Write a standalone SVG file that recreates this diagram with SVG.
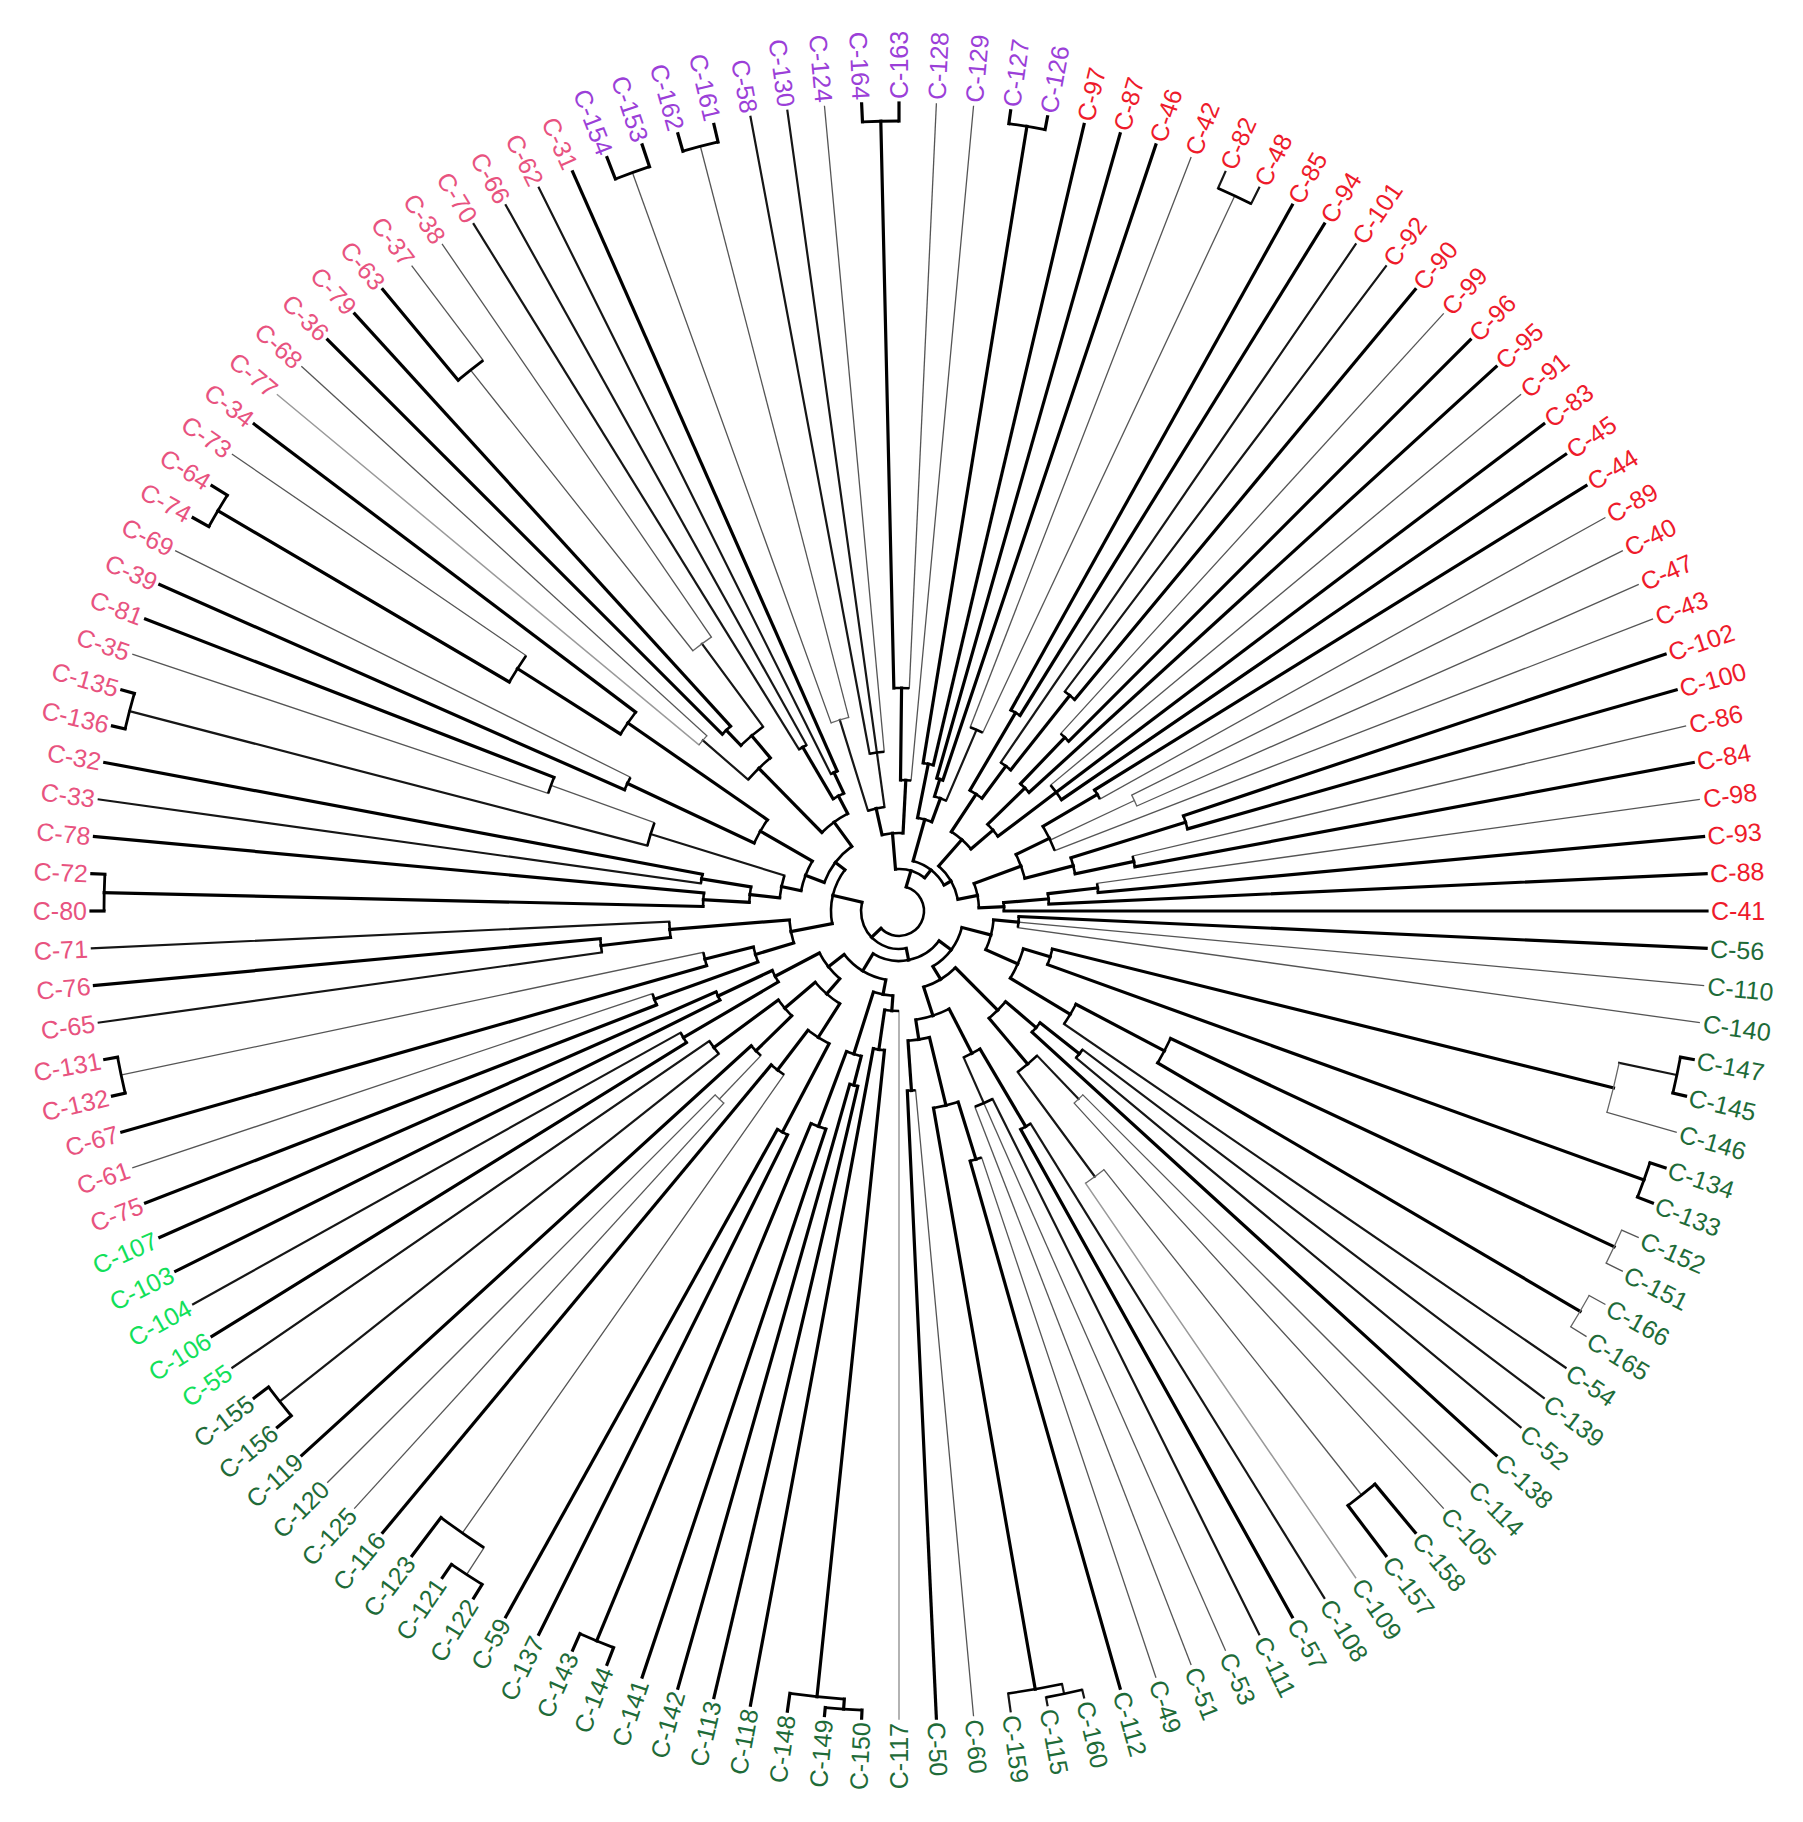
<svg xmlns="http://www.w3.org/2000/svg" width="1803" height="1822" viewBox="0 0 1803 1822">
<style>
line{stroke-linecap:square}
.k{stroke:#000;stroke-width:3.2}
.m{stroke:#161616;stroke-width:2.2}
.t{stroke:#555;stroke-width:1.3}
.v{stroke:#9a9a9a;stroke-width:1.5}
.a{fill:none;stroke:#000;stroke-width:2.6}
.at{fill:none;stroke:#666;stroke-width:1.3}
.b{fill:none;stroke:#000;stroke-width:2.8}
text{font-family:"Liberation Sans",Arial,sans-serif;font-size:25px;dominant-baseline:central}
.e{text-anchor:end}
.pu{fill:#9b3fd8}
.rd{fill:#ee1b2b}
.pk{fill:#e8537f}
.dg{fill:#1e6b38}
.bg{fill:#12e05a}
</style>
<rect width="1803" height="1822" fill="#fff"/>
<g id="connectors" transform="translate(899 911)">
<!-- terminal branches -->
<line class="k" x1="785" x2="808" transform="rotate(-111.18)"/>
<line class="k" x1="785" x2="808" transform="rotate(-108.53)"/>
<line class="k" x1="790" x2="808" transform="rotate(-105.88)"/>
<line class="k" x1="790" x2="808" transform="rotate(-103.24)"/>
<line class="m" x1="160" x2="808" transform="rotate(-100.59)"/>
<line class="m" x1="160" x2="808" transform="rotate(-97.94)"/>
<line class="t" x1="160" x2="808" transform="rotate(-95.29)"/>
<line class="k" x1="790" x2="808" transform="rotate(-92.65)"/>
<line class="k" x1="790" x2="808" transform="rotate(-90)"/>
<line class="t" x1="223" x2="808" transform="rotate(-87.35)"/>
<line class="t" x1="131" x2="808" transform="rotate(-84.71)"/>
<line class="k" x1="795" x2="808" transform="rotate(-82.06)"/>
<line class="k" x1="795" x2="808" transform="rotate(-79.41)"/>
<line class="k" x1="150" x2="808" transform="rotate(-76.76)"/>
<line class="k" x1="138" x2="808" transform="rotate(-74.12)"/>
<line class="k" x1="138" x2="808" transform="rotate(-71.47)"/>
<line class="t" x1="197" x2="808" transform="rotate(-68.82)"/>
<line class="m" x1="790" x2="808" transform="rotate(-66.18)"/>
<line class="m" x1="790" x2="808" transform="rotate(-63.53)"/>
<line class="k" x1="230" x2="808" transform="rotate(-60.88)"/>
<line class="k" x1="230" x2="808" transform="rotate(-58.24)"/>
<line class="m" x1="180" x2="808" transform="rotate(-55.59)"/>
<line class="m" x1="275" x2="808" transform="rotate(-52.94)"/>
<line class="k" x1="275" x2="808" transform="rotate(-50.29)"/>
<line class="t" x1="240" x2="808" transform="rotate(-47.65)"/>
<line class="k" x1="240" x2="808" transform="rotate(-45)"/>
<line class="k" x1="176" x2="808" transform="rotate(-42.35)"/>
<line class="t" x1="197" x2="808" transform="rotate(-39.71)"/>
<line class="k" x1="197" x2="808" transform="rotate(-37.06)"/>
<line class="k" x1="197" x2="808" transform="rotate(-34.41)"/>
<line class="k" x1="230" x2="808" transform="rotate(-31.76)"/>
<line class="t" x1="230" x2="808" transform="rotate(-29.12)"/>
<line class="t" x1="260" x2="808" transform="rotate(-26.47)"/>
<line class="t" x1="260" x2="808" transform="rotate(-23.82)"/>
<line class="t" x1="167" x2="808" transform="rotate(-21.18)"/>
<line class="k" x1="300" x2="808" transform="rotate(-18.53)"/>
<line class="k" x1="300" x2="808" transform="rotate(-15.88)"/>
<line class="t" x1="240" x2="808" transform="rotate(-13.24)"/>
<line class="k" x1="240" x2="808" transform="rotate(-10.59)"/>
<line class="t" x1="200" x2="808" transform="rotate(-7.94)"/>
<line class="k" x1="200" x2="808" transform="rotate(-5.29)"/>
<line class="k" x1="150" x2="808" transform="rotate(-2.65)"/>
<line class="k" x1="105" x2="808" transform="rotate(0)"/>
<line class="k" x1="120" x2="808" transform="rotate(2.65)"/>
<line class="t" x1="120" x2="808" transform="rotate(5.29)"/>
<line class="t" x1="120" x2="808" transform="rotate(7.94)"/>
<line class="k" x1="795" x2="808" transform="rotate(10.59)"/>
<line class="k" x1="795" x2="808" transform="rotate(13.24)"/>
<line class="t" x1="736" x2="808" transform="rotate(15.88)"/>
<line class="k" x1="792" x2="808" transform="rotate(18.53)"/>
<line class="k" x1="792" x2="808" transform="rotate(21.18)"/>
<line class="t" x1="790" x2="808" transform="rotate(23.82)"/>
<line class="t" x1="790" x2="808" transform="rotate(26.47)"/>
<line class="t" x1="790" x2="808" transform="rotate(29.12)"/>
<line class="t" x1="790" x2="808" transform="rotate(31.76)"/>
<line class="m" x1="200" x2="808" transform="rotate(34.41)"/>
<line class="m" x1="230" x2="808" transform="rotate(37.06)"/>
<line class="m" x1="230" x2="808" transform="rotate(39.71)"/>
<line class="k" x1="180" x2="808" transform="rotate(42.35)"/>
<line class="t" x1="260" x2="808" transform="rotate(45)"/>
<line class="t" x1="260" x2="808" transform="rotate(47.65)"/>
<line class="k" x1="745" x2="808" transform="rotate(50.29)"/>
<line class="k" x1="745" x2="808" transform="rotate(52.94)"/>
<line class="v" x1="330" x2="808" transform="rotate(55.59)"/>
<line class="m" x1="250" x2="808" transform="rotate(58.24)"/>
<line class="k" x1="250" x2="808" transform="rotate(60.88)"/>
<line class="m" x1="210" x2="808" transform="rotate(63.53)"/>
<line class="t" x1="210" x2="808" transform="rotate(66.18)"/>
<line class="t" x1="210" x2="808" transform="rotate(68.82)"/>
<line class="t" x1="260" x2="808" transform="rotate(71.47)"/>
<line class="k" x1="260" x2="808" transform="rotate(74.12)"/>
<line class="m" x1="800" x2="808" transform="rotate(76.76)"/>
<line class="m" x1="800" x2="808" transform="rotate(79.41)"/>
<line class="m" x1="790" x2="808" transform="rotate(82.06)"/>
<line class="t" x1="180" x2="808" transform="rotate(84.71)"/>
<line class="k" x1="180" x2="808" transform="rotate(87.35)"/>
<line class="v" x1="100" x2="808" transform="rotate(90)"/>
<line class="k" x1="800" x2="808" transform="rotate(92.65)"/>
<line class="k" x1="800" x2="808" transform="rotate(95.29)"/>
<line class="k" x1="790" x2="808" transform="rotate(97.94)"/>
<line class="k" x1="140" x2="808" transform="rotate(100.59)"/>
<line class="k" x1="180" x2="808" transform="rotate(103.24)"/>
<line class="k" x1="180" x2="808" transform="rotate(105.88)"/>
<line class="k" x1="230" x2="808" transform="rotate(108.53)"/>
<line class="k" x1="790" x2="808" transform="rotate(111.18)"/>
<line class="k" x1="790" x2="808" transform="rotate(113.82)"/>
<line class="k" x1="250" x2="808" transform="rotate(116.47)"/>
<line class="k" x1="250" x2="808" transform="rotate(119.12)"/>
<line class="k" x1="792" x2="808" transform="rotate(121.76)"/>
<line class="k" x1="792" x2="808" transform="rotate(124.41)"/>
<line class="k" x1="760" x2="808" transform="rotate(127.06)"/>
<line class="k" x1="200" x2="808" transform="rotate(129.71)"/>
<line class="t" x1="260" x2="808" transform="rotate(132.35)"/>
<line class="t" x1="260" x2="808" transform="rotate(135)"/>
<line class="k" x1="200" x2="808" transform="rotate(137.65)"/>
<line class="k" x1="790" x2="808" transform="rotate(140.29)"/>
<line class="k" x1="790" x2="808" transform="rotate(142.94)"/>
<line class="m" x1="230" x2="808" transform="rotate(145.59)"/>
<line class="k" x1="250" x2="808" transform="rotate(148.24)"/>
<line class="m" x1="250" x2="808" transform="rotate(150.88)"/>
<line class="k" x1="200" x2="808" transform="rotate(153.53)"/>
<line class="k" x1="200" x2="808" transform="rotate(156.18)"/>
<line class="k" x1="260" x2="808" transform="rotate(158.82)"/>
<line class="t" x1="260" x2="808" transform="rotate(161.47)"/>
<line class="k" x1="200" x2="808" transform="rotate(164.12)"/>
<line class="k" x1="795" x2="808" transform="rotate(166.76)"/>
<line class="k" x1="795" x2="808" transform="rotate(169.41)"/>
<line class="m" x1="300" x2="808" transform="rotate(172.06)"/>
<line class="k" x1="300" x2="808" transform="rotate(174.71)"/>
<line class="m" x1="230" x2="808" transform="rotate(177.35)"/>
<line class="k" x1="795" x2="808" transform="rotate(180)"/>
<line class="k" x1="795" x2="808" transform="rotate(182.65)"/>
<line class="k" x1="196" x2="808" transform="rotate(185.29)"/>
<line class="m" x1="200" x2="808" transform="rotate(187.94)"/>
<line class="k" x1="200" x2="808" transform="rotate(190.59)"/>
<line class="k" x1="795" x2="808" transform="rotate(193.24)"/>
<line class="k" x1="795" x2="808" transform="rotate(195.88)"/>
<line class="t" x1="370" x2="808" transform="rotate(198.53)"/>
<line class="k" x1="370" x2="808" transform="rotate(201.18)"/>
<line class="k" x1="300" x2="808" transform="rotate(203.82)"/>
<line class="t" x1="300" x2="808" transform="rotate(206.47)"/>
<line class="k" x1="790" x2="808" transform="rotate(209.12)"/>
<line class="k" x1="790" x2="808" transform="rotate(211.76)"/>
<line class="t" x1="452" x2="808" transform="rotate(214.41)"/>
<line class="k" x1="330" x2="808" transform="rotate(217.06)"/>
<line class="v" x1="260" x2="808" transform="rotate(219.71)"/>
<line class="t" x1="260" x2="808" transform="rotate(222.35)"/>
<line class="k" x1="250" x2="808" transform="rotate(225)"/>
<line class="k" x1="250" x2="808" transform="rotate(227.65)"/>
<line class="k" x1="690" x2="808" transform="rotate(230.29)"/>
<line class="t" x1="690" x2="808" transform="rotate(232.94)"/>
<line class="t" x1="332" x2="808" transform="rotate(235.59)"/>
<line class="m" x1="190" x2="808" transform="rotate(238.24)"/>
<line class="m" x1="190" x2="808" transform="rotate(240.88)"/>
<line class="m" x1="153" x2="808" transform="rotate(243.53)"/>
<line class="k" x1="153" x2="808" transform="rotate(246.18)"/>
<!-- internal stems -->
<line class="k" x1="223" x2="790" transform="rotate(-91.32)"/>
<line class="k" x1="131" x2="223" transform="rotate(-89.34)"/>
<line class="t" x1="200" x2="785" transform="rotate(-109.85)"/>
<line class="t" x1="200" x2="790" transform="rotate(-104.56)"/>
<line class="m" x1="105" x2="200" transform="rotate(-107.21)"/>
<line class="m" x1="105" x2="160" transform="rotate(-97.94)"/>
<line class="k" x1="78" x2="105" transform="rotate(-102.57)"/>
<line class="k" x1="78" x2="131" transform="rotate(-87.02)"/>
<line class="k" x1="150" x2="795" transform="rotate(-80.74)"/>
<line class="t" x1="197" x2="790" transform="rotate(-64.85)"/>
<line class="k" x1="120" x2="138" transform="rotate(-72.79)"/>
<line class="m" x1="120" x2="197" transform="rotate(-66.84)"/>
<line class="k" x1="95" x2="150" transform="rotate(-78.75)"/>
<line class="k" x1="95" x2="120" transform="rotate(-69.82)"/>
<line class="k" x1="180" x2="275" transform="rotate(-51.62)"/>
<line class="k" x1="140" x2="230" transform="rotate(-59.56)"/>
<line class="k" x1="140" x2="180" transform="rotate(-53.6)"/>
<line class="k" x1="176" x2="240" transform="rotate(-46.32)"/>
<line class="k" x1="124" x2="176" transform="rotate(-44.34)"/>
<line class="k" x1="124" x2="197" transform="rotate(-37.06)"/>
<line class="k" x1="95" x2="140" transform="rotate(-56.58)"/>
<line class="k" x1="95" x2="124" transform="rotate(-40.7)"/>
<line class="k" x1="167" x2="230" transform="rotate(-30.44)"/>
<line class="t" x1="167" x2="260" transform="rotate(-25.15)"/>
<line class="k" x1="180" x2="300" transform="rotate(-17.21)"/>
<line class="k" x1="180" x2="240" transform="rotate(-11.91)"/>
<line class="k" x1="130" x2="167" transform="rotate(-25.81)"/>
<line class="k" x1="130" x2="180" transform="rotate(-14.56)"/>
<line class="k" x1="150" x2="200" transform="rotate(-6.62)"/>
<line class="k" x1="105" x2="150" transform="rotate(-4.63)"/>
<line class="k" x1="80" x2="130" transform="rotate(-20.19)"/>
<line class="k" x1="80" x2="105" transform="rotate(-2.32)"/>
<line class="k" x1="60" x2="95" transform="rotate(-48.64)"/>
<line class="k" x1="60" x2="80" transform="rotate(-11.25)"/>
<line class="k" x1="52" x2="95" transform="rotate(-74.28)"/>
<line class="k" x1="52" x2="60" transform="rotate(-29.94)"/>
<line class="m" x1="736" x2="795" transform="rotate(11.91)"/>
<line class="k" x1="158" x2="736" transform="rotate(13.9)"/>
<line class="k" x1="158" x2="792" transform="rotate(19.85)"/>
<line class="k" x1="300" x2="790" transform="rotate(25.15)"/>
<line class="k" x1="300" x2="790" transform="rotate(30.44)"/>
<line class="k" x1="200" x2="300" transform="rotate(27.79)"/>
<line class="k" x1="95" x2="120" transform="rotate(5.29)"/>
<line class="k" x1="130" x2="158" transform="rotate(16.88)"/>
<line class="k" x1="130" x2="200" transform="rotate(31.1)"/>
<line class="k" x1="95" x2="130" transform="rotate(23.99)"/>
<line class="k" x1="180" x2="230" transform="rotate(38.38)"/>
<line class="t" x1="330" x2="745" transform="rotate(51.62)"/>
<line class="m" x1="200" x2="260" transform="rotate(46.32)"/>
<line class="m" x1="200" x2="330" transform="rotate(53.6)"/>
<line class="k" x1="140" x2="180" transform="rotate(40.37)"/>
<line class="k" x1="140" x2="200" transform="rotate(49.96)"/>
<line class="k" x1="160" x2="250" transform="rotate(59.56)"/>
<line class="m" x1="160" x2="210" transform="rotate(66.18)"/>
<line class="k" x1="200" x2="260" transform="rotate(72.79)"/>
<line class="m" x1="790" x2="800" transform="rotate(78.09)"/>
<line class="k" x1="200" x2="790" transform="rotate(80.07)"/>
<line class="k" x1="130" x2="200" transform="rotate(76.43)"/>
<line class="k" x1="130" x2="180" transform="rotate(86.03)"/>
<line class="k" x1="110" x2="160" transform="rotate(62.87)"/>
<line class="k" x1="110" x2="130" transform="rotate(81.24)"/>
<line class="k" x1="80" x2="140" transform="rotate(45.16)"/>
<line class="k" x1="80" x2="110" transform="rotate(72.05)"/>
<line class="k" x1="65" x2="95" transform="rotate(14.64)"/>
<line class="k" x1="65" x2="80" transform="rotate(58.61)"/>
<line class="k" x1="790" x2="800" transform="rotate(93.97)"/>
<line class="k" x1="140" x2="790" transform="rotate(95.96)"/>
<line class="k" x1="100" x2="140" transform="rotate(98.27)"/>
<line class="k" x1="230" x2="790" transform="rotate(112.5)"/>
<line class="k" x1="150" x2="180" transform="rotate(104.56)"/>
<line class="k" x1="150" x2="230" transform="rotate(110.51)"/>
<line class="k" x1="85" x2="100" transform="rotate(94.13)"/>
<line class="k" x1="85" x2="150" transform="rotate(107.54)"/>
<line class="t" x1="760" x2="792" transform="rotate(123.09)"/>
<line class="t" x1="200" x2="760" transform="rotate(125.07)"/>
<line class="k" x1="150" x2="250" transform="rotate(117.79)"/>
<line class="k" x1="150" x2="200" transform="rotate(127.39)"/>
<line class="t" x1="200" x2="260" transform="rotate(133.68)"/>
<line class="m" x1="230" x2="790" transform="rotate(141.62)"/>
<line class="k" x1="150" x2="200" transform="rotate(135.66)"/>
<line class="k" x1="150" x2="230" transform="rotate(143.6)"/>
<line class="k" x1="110" x2="150" transform="rotate(122.58)"/>
<line class="k" x1="110" x2="150" transform="rotate(139.63)"/>
<line class="k" x1="140" x2="250" transform="rotate(149.56)"/>
<line class="k" x1="140" x2="200" transform="rotate(154.85)"/>
<line class="k" x1="90" x2="110" transform="rotate(131.11)"/>
<line class="k" x1="90" x2="140" transform="rotate(152.21)"/>
<line class="k" x1="70" x2="85" transform="rotate(100.83)"/>
<line class="k" x1="70" x2="90" transform="rotate(141.67)"/>
<line class="t" x1="200" x2="795" transform="rotate(168.09)"/>
<line class="k" x1="150" x2="260" transform="rotate(160.15)"/>
<line class="k" x1="150" x2="200" transform="rotate(166.1)"/>
<line class="k" x1="230" x2="300" transform="rotate(173.38)"/>
<line class="k" x1="110" x2="150" transform="rotate(163.13)"/>
<line class="k" x1="110" x2="230" transform="rotate(175.37)"/>
<line class="k" x1="196" x2="795" transform="rotate(181.32)"/>
<line class="k" x1="150" x2="196" transform="rotate(183.31)"/>
<line class="k" x1="150" x2="200" transform="rotate(189.26)"/>
<line class="t" x1="260" x2="370" transform="rotate(199.85)"/>
<line class="m" x1="260" x2="795" transform="rotate(194.56)"/>
<line class="k" x1="120" x2="150" transform="rotate(186.29)"/>
<line class="m" x1="120" x2="260" transform="rotate(197.21)"/>
<line class="k" x1="452" x2="790" transform="rotate(210.44)"/>
<line class="k" x1="330" x2="452" transform="rotate(212.43)"/>
<line class="k" x1="160" x2="300" transform="rotate(205.15)"/>
<line class="k" x1="160" x2="330" transform="rotate(214.74)"/>
<line class="k" x1="100" x2="120" transform="rotate(191.75)"/>
<line class="k" x1="100" x2="160" transform="rotate(209.94)"/>
<line class="t" x1="332" x2="690" transform="rotate(231.62)"/>
<line class="k" x1="229" x2="250" transform="rotate(226.32)"/>
<line class="m" x1="229" x2="332" transform="rotate(233.6)"/>
<line class="m" x1="200" x2="260" transform="rotate(221.03)"/>
<line class="k" x1="200" x2="229" transform="rotate(229.96)"/>
<line class="k" x1="130" x2="190" transform="rotate(239.56)"/>
<line class="k" x1="130" x2="153" transform="rotate(244.85)"/>
<line class="k" x1="110" x2="200" transform="rotate(225.5)"/>
<line class="k" x1="110" x2="130" transform="rotate(242.21)"/>
<line class="k" x1="80" x2="100" transform="rotate(200.85)"/>
<line class="k" x1="80" x2="110" transform="rotate(233.85)"/>
<line class="k" x1="68" x2="110" transform="rotate(169.25)"/>
<line class="k" x1="68" x2="80" transform="rotate(217.35)"/>
<line class="k" x1="42" x2="78" transform="rotate(-94.8)"/>
<line class="k" x1="42" x2="52" transform="rotate(-52.11)"/>
<line class="k" x1="50" x2="65" transform="rotate(36.63)"/>
<line class="k" x1="50" x2="70" transform="rotate(121.24)"/>
<line class="k" x1="38" x2="50" transform="rotate(78.93)"/>
<line class="k" x1="38" x2="68" transform="rotate(193.3)"/>
<line class="k" x1="25" x2="42" transform="rotate(-73.46)"/>
<line class="k" x1="25" x2="38" transform="rotate(136.13)"/>
<!-- arcs -->
<circle class="b" r="785" pathLength="360" stroke-dasharray="2.65 360" transform="rotate(-111.18)"/>
<circle class="b" r="790" pathLength="360" stroke-dasharray="2.65 360" transform="rotate(-105.88)"/>
<circle class="b" r="790" pathLength="360" stroke-dasharray="2.65 360" transform="rotate(-92.65)"/>
<circle class="b" r="795" pathLength="360" stroke-dasharray="2.65 360" transform="rotate(-82.06)"/>
<circle class="a" r="223" pathLength="360" stroke-dasharray="3.97 360" transform="rotate(-91.32)"/>
<circle class="a" r="131" pathLength="360" stroke-dasharray="4.63 360" transform="rotate(-89.34)"/>
<circle class="a" r="160" pathLength="360" stroke-dasharray="5.3 360" transform="rotate(-100.59)"/>
<circle class="at" r="200" pathLength="360" stroke-dasharray="5.29 360" transform="rotate(-109.85)"/>
<circle class="a" r="105" pathLength="360" stroke-dasharray="9.27 360" transform="rotate(-107.21)"/>
<circle class="a" r="78" pathLength="360" stroke-dasharray="15.55 360" transform="rotate(-102.57)"/>
<circle class="a" r="150" pathLength="360" stroke-dasharray="3.98 360" transform="rotate(-80.74)"/>
<circle class="b" r="790" pathLength="360" stroke-dasharray="2.65 360" transform="rotate(-66.18)"/>
<circle class="a" r="138" pathLength="360" stroke-dasharray="2.65 360" transform="rotate(-74.12)"/>
<circle class="a" r="197" pathLength="360" stroke-dasharray="3.97 360" transform="rotate(-68.82)"/>
<circle class="a" r="120" pathLength="360" stroke-dasharray="5.95 360" transform="rotate(-72.79)"/>
<circle class="a" r="95" pathLength="360" stroke-dasharray="8.93 360" transform="rotate(-78.75)"/>
<circle class="a" r="230" pathLength="360" stroke-dasharray="2.64 360" transform="rotate(-60.88)"/>
<circle class="a" r="275" pathLength="360" stroke-dasharray="2.65 360" transform="rotate(-52.94)"/>
<circle class="a" r="180" pathLength="360" stroke-dasharray="3.97 360" transform="rotate(-55.59)"/>
<circle class="a" r="140" pathLength="360" stroke-dasharray="5.96 360" transform="rotate(-59.56)"/>
<circle class="a" r="240" pathLength="360" stroke-dasharray="2.65 360" transform="rotate(-47.65)"/>
<circle class="a" r="176" pathLength="360" stroke-dasharray="3.97 360" transform="rotate(-46.32)"/>
<circle class="a" r="197" pathLength="360" stroke-dasharray="5.3 360" transform="rotate(-39.71)"/>
<circle class="a" r="124" pathLength="360" stroke-dasharray="7.28 360" transform="rotate(-44.34)"/>
<circle class="a" r="95" pathLength="360" stroke-dasharray="15.88 360" transform="rotate(-56.58)"/>
<circle class="a" r="230" pathLength="360" stroke-dasharray="2.64 360" transform="rotate(-31.76)"/>
<circle class="at" r="260" pathLength="360" stroke-dasharray="2.65 360" transform="rotate(-26.47)"/>
<circle class="a" r="167" pathLength="360" stroke-dasharray="9.26 360" transform="rotate(-30.44)"/>
<circle class="a" r="300" pathLength="360" stroke-dasharray="2.65 360" transform="rotate(-18.53)"/>
<circle class="a" r="240" pathLength="360" stroke-dasharray="2.65 360" transform="rotate(-13.24)"/>
<circle class="a" r="180" pathLength="360" stroke-dasharray="5.3 360" transform="rotate(-17.21)"/>
<circle class="a" r="130" pathLength="360" stroke-dasharray="11.25 360" transform="rotate(-25.81)"/>
<circle class="a" r="200" pathLength="360" stroke-dasharray="2.65 360" transform="rotate(-7.94)"/>
<circle class="a" r="150" pathLength="360" stroke-dasharray="3.97 360" transform="rotate(-6.62)"/>
<circle class="a" r="105" pathLength="360" stroke-dasharray="4.63 360" transform="rotate(-4.63)"/>
<circle class="a" r="80" pathLength="360" stroke-dasharray="17.87 360" transform="rotate(-20.19)"/>
<circle class="a" r="60" pathLength="360" stroke-dasharray="37.39 360" transform="rotate(-48.64)"/>
<circle class="a" r="52" pathLength="360" stroke-dasharray="44.34 360" transform="rotate(-74.28)"/>
<circle class="b" r="795" pathLength="360" stroke-dasharray="2.65 360" transform="rotate(10.59)"/>
<circle class="at" r="736" pathLength="360" stroke-dasharray="3.97 360" transform="rotate(11.91)"/>
<circle class="b" r="792" pathLength="360" stroke-dasharray="2.65 360" transform="rotate(18.53)"/>
<circle class="at" r="790" pathLength="360" stroke-dasharray="2.65 360" transform="rotate(23.82)"/>
<circle class="at" r="790" pathLength="360" stroke-dasharray="2.64 360" transform="rotate(29.12)"/>
<circle class="a" r="120" pathLength="360" stroke-dasharray="5.29 360" transform="rotate(2.65)"/>
<circle class="a" r="158" pathLength="360" stroke-dasharray="5.95 360" transform="rotate(13.9)"/>
<circle class="a" r="300" pathLength="360" stroke-dasharray="5.29 360" transform="rotate(25.15)"/>
<circle class="a" r="200" pathLength="360" stroke-dasharray="6.62 360" transform="rotate(27.79)"/>
<circle class="a" r="130" pathLength="360" stroke-dasharray="14.22 360" transform="rotate(16.88)"/>
<circle class="a" r="95" pathLength="360" stroke-dasharray="18.7 360" transform="rotate(5.29)"/>
<circle class="a" r="230" pathLength="360" stroke-dasharray="2.65 360" transform="rotate(37.06)"/>
<circle class="a" r="180" pathLength="360" stroke-dasharray="3.97 360" transform="rotate(38.38)"/>
<circle class="at" r="260" pathLength="360" stroke-dasharray="2.65 360" transform="rotate(45)"/>
<circle class="b" r="745" pathLength="360" stroke-dasharray="2.65 360" transform="rotate(50.29)"/>
<circle class="at" r="330" pathLength="360" stroke-dasharray="3.97 360" transform="rotate(51.62)"/>
<circle class="a" r="200" pathLength="360" stroke-dasharray="7.28 360" transform="rotate(46.32)"/>
<circle class="a" r="140" pathLength="360" stroke-dasharray="9.59 360" transform="rotate(40.37)"/>
<circle class="a" r="250" pathLength="360" stroke-dasharray="2.64 360" transform="rotate(58.24)"/>
<circle class="a" r="210" pathLength="360" stroke-dasharray="5.29 360" transform="rotate(63.53)"/>
<circle class="a" r="160" pathLength="360" stroke-dasharray="6.62 360" transform="rotate(59.56)"/>
<circle class="a" r="260" pathLength="360" stroke-dasharray="2.65 360" transform="rotate(71.47)"/>
<circle class="a" r="800" pathLength="360" stroke-dasharray="2.65 360" transform="rotate(76.76)"/>
<circle class="a" r="790" pathLength="360" stroke-dasharray="3.97 360" transform="rotate(78.09)"/>
<circle class="a" r="200" pathLength="360" stroke-dasharray="7.28 360" transform="rotate(72.79)"/>
<circle class="a" r="180" pathLength="360" stroke-dasharray="2.64 360" transform="rotate(84.71)"/>
<circle class="a" r="130" pathLength="360" stroke-dasharray="9.6 360" transform="rotate(76.43)"/>
<circle class="a" r="110" pathLength="360" stroke-dasharray="18.37 360" transform="rotate(62.87)"/>
<circle class="a" r="80" pathLength="360" stroke-dasharray="26.89 360" transform="rotate(45.16)"/>
<circle class="a" r="65" pathLength="360" stroke-dasharray="43.97 360" transform="rotate(14.64)"/>
<circle class="b" r="800" pathLength="360" stroke-dasharray="2.64 360" transform="rotate(92.65)"/>
<circle class="b" r="790" pathLength="360" stroke-dasharray="3.97 360" transform="rotate(93.97)"/>
<circle class="a" r="140" pathLength="360" stroke-dasharray="4.63 360" transform="rotate(95.96)"/>
<circle class="a" r="100" pathLength="360" stroke-dasharray="8.27 360" transform="rotate(90)"/>
<circle class="a" r="180" pathLength="360" stroke-dasharray="2.64 360" transform="rotate(103.24)"/>
<circle class="b" r="790" pathLength="360" stroke-dasharray="2.64 360" transform="rotate(111.18)"/>
<circle class="a" r="230" pathLength="360" stroke-dasharray="3.97 360" transform="rotate(108.53)"/>
<circle class="a" r="150" pathLength="360" stroke-dasharray="5.95 360" transform="rotate(104.56)"/>
<circle class="a" r="85" pathLength="360" stroke-dasharray="13.41 360" transform="rotate(94.13)"/>
<circle class="a" r="250" pathLength="360" stroke-dasharray="2.65 360" transform="rotate(116.47)"/>
<circle class="b" r="792" pathLength="360" stroke-dasharray="2.65 360" transform="rotate(121.76)"/>
<circle class="b" r="760" pathLength="360" stroke-dasharray="3.97 360" transform="rotate(123.09)"/>
<circle class="a" r="200" pathLength="360" stroke-dasharray="4.64 360" transform="rotate(125.07)"/>
<circle class="a" r="150" pathLength="360" stroke-dasharray="9.6 360" transform="rotate(117.79)"/>
<circle class="at" r="260" pathLength="360" stroke-dasharray="2.65 360" transform="rotate(132.35)"/>
<circle class="a" r="200" pathLength="360" stroke-dasharray="3.97 360" transform="rotate(133.68)"/>
<circle class="b" r="790" pathLength="360" stroke-dasharray="2.65 360" transform="rotate(140.29)"/>
<circle class="a" r="230" pathLength="360" stroke-dasharray="3.97 360" transform="rotate(141.62)"/>
<circle class="a" r="150" pathLength="360" stroke-dasharray="7.94 360" transform="rotate(135.66)"/>
<circle class="a" r="110" pathLength="360" stroke-dasharray="17.05 360" transform="rotate(122.58)"/>
<circle class="a" r="250" pathLength="360" stroke-dasharray="2.64 360" transform="rotate(148.24)"/>
<circle class="a" r="200" pathLength="360" stroke-dasharray="2.65 360" transform="rotate(153.53)"/>
<circle class="a" r="140" pathLength="360" stroke-dasharray="5.29 360" transform="rotate(149.56)"/>
<circle class="a" r="90" pathLength="360" stroke-dasharray="21.1 360" transform="rotate(131.11)"/>
<circle class="a" r="70" pathLength="360" stroke-dasharray="40.84 360" transform="rotate(100.83)"/>
<circle class="a" r="260" pathLength="360" stroke-dasharray="2.65 360" transform="rotate(158.82)"/>
<circle class="b" r="795" pathLength="360" stroke-dasharray="2.65 360" transform="rotate(166.76)"/>
<circle class="a" r="200" pathLength="360" stroke-dasharray="3.97 360" transform="rotate(164.12)"/>
<circle class="a" r="150" pathLength="360" stroke-dasharray="5.95 360" transform="rotate(160.15)"/>
<circle class="a" r="300" pathLength="360" stroke-dasharray="2.65 360" transform="rotate(172.06)"/>
<circle class="a" r="230" pathLength="360" stroke-dasharray="3.97 360" transform="rotate(173.38)"/>
<circle class="a" r="110" pathLength="360" stroke-dasharray="12.24 360" transform="rotate(163.13)"/>
<circle class="b" r="795" pathLength="360" stroke-dasharray="2.65 360" transform="rotate(180)"/>
<circle class="a" r="196" pathLength="360" stroke-dasharray="3.97 360" transform="rotate(181.32)"/>
<circle class="a" r="200" pathLength="360" stroke-dasharray="2.65 360" transform="rotate(187.94)"/>
<circle class="a" r="150" pathLength="360" stroke-dasharray="5.95 360" transform="rotate(183.31)"/>
<circle class="b" r="795" pathLength="360" stroke-dasharray="2.64 360" transform="rotate(193.24)"/>
<circle class="a" r="370" pathLength="360" stroke-dasharray="2.65 360" transform="rotate(198.53)"/>
<circle class="a" r="260" pathLength="360" stroke-dasharray="5.29 360" transform="rotate(194.56)"/>
<circle class="b" r="790" pathLength="360" stroke-dasharray="2.64 360" transform="rotate(209.12)"/>
<circle class="a" r="452" pathLength="360" stroke-dasharray="3.97 360" transform="rotate(210.44)"/>
<circle class="a" r="330" pathLength="360" stroke-dasharray="4.63 360" transform="rotate(212.43)"/>
<circle class="a" r="300" pathLength="360" stroke-dasharray="2.65 360" transform="rotate(203.82)"/>
<circle class="at" r="260" pathLength="360" stroke-dasharray="2.64 360" transform="rotate(219.71)"/>
<circle class="a" r="250" pathLength="360" stroke-dasharray="2.65 360" transform="rotate(225)"/>
<circle class="b" r="690" pathLength="360" stroke-dasharray="2.65 360" transform="rotate(230.29)"/>
<circle class="at" r="332" pathLength="360" stroke-dasharray="3.97 360" transform="rotate(231.62)"/>
<circle class="a" r="229" pathLength="360" stroke-dasharray="7.28 360" transform="rotate(226.32)"/>
<circle class="a" r="190" pathLength="360" stroke-dasharray="2.64 360" transform="rotate(238.24)"/>
<circle class="a" r="153" pathLength="360" stroke-dasharray="2.65 360" transform="rotate(243.53)"/>
<circle class="a" r="130" pathLength="360" stroke-dasharray="5.29 360" transform="rotate(239.56)"/>
<circle class="a" r="200" pathLength="360" stroke-dasharray="8.93 360" transform="rotate(221.03)"/>
<circle class="a" r="120" pathLength="360" stroke-dasharray="10.92 360" transform="rotate(186.29)"/>
<circle class="a" r="160" pathLength="360" stroke-dasharray="9.59 360" transform="rotate(205.15)"/>
<circle class="a" r="100" pathLength="360" stroke-dasharray="18.19 360" transform="rotate(191.75)"/>
<circle class="a" r="110" pathLength="360" stroke-dasharray="16.71 360" transform="rotate(225.5)"/>
<circle class="a" r="80" pathLength="360" stroke-dasharray="33 360" transform="rotate(200.85)"/>
<circle class="a" r="68" pathLength="360" stroke-dasharray="48.1 360" transform="rotate(169.25)"/>
<circle class="a" r="42" pathLength="360" stroke-dasharray="42.69 360" transform="rotate(-94.8)"/>
<circle class="a" r="50" pathLength="360" stroke-dasharray="84.61 360" transform="rotate(36.63)"/>
<circle class="a" r="38" pathLength="360" stroke-dasharray="114.37 360" transform="rotate(78.93)"/>
<circle class="a" r="25" pathLength="360" stroke-dasharray="209.59 360" transform="rotate(-73.46)"/>
</g>
<g id="labels" transform="translate(899 911)">
<g id="n-C-154"><text class="pu e" transform="rotate(-111.18) translate(812 0) rotate(180)">C-154</text></g>
<g id="n-C-153"><text class="pu e" transform="rotate(-108.53) translate(812 0) rotate(180)">C-153</text></g>
<g id="n-C-162"><text class="pu e" transform="rotate(-105.88) translate(812 0) rotate(180)">C-162</text></g>
<g id="n-C-161"><text class="pu e" transform="rotate(-103.24) translate(812 0) rotate(180)">C-161</text></g>
<g id="n-C-58"><text class="pu e" transform="rotate(-100.59) translate(812 0) rotate(180)">C-58</text></g>
<g id="n-C-130"><text class="pu e" transform="rotate(-97.94) translate(812 0) rotate(180)">C-130</text></g>
<g id="n-C-124"><text class="pu e" transform="rotate(-95.29) translate(812 0) rotate(180)">C-124</text></g>
<g id="n-C-164"><text class="pu e" transform="rotate(-92.65) translate(812 0) rotate(180)">C-164</text></g>
<g id="n-C-163"><text class="pu" transform="rotate(-90) translate(812 0)">C-163</text></g>
<g id="n-C-128"><text class="pu" transform="rotate(-87.35) translate(812 0)">C-128</text></g>
<g id="n-C-129"><text class="pu" transform="rotate(-84.71) translate(812 0)">C-129</text></g>
<g id="n-C-127"><text class="pu" transform="rotate(-82.06) translate(812 0)">C-127</text></g>
<g id="n-C-126"><text class="pu" transform="rotate(-79.41) translate(812 0)">C-126</text></g>
<g id="n-C-97"><text class="rd" transform="rotate(-76.76) translate(812 0)">C-97</text></g>
<g id="n-C-87"><text class="rd" transform="rotate(-74.12) translate(812 0)">C-87</text></g>
<g id="n-C-46"><text class="rd" transform="rotate(-71.47) translate(812 0)">C-46</text></g>
<g id="n-C-42"><text class="rd" transform="rotate(-68.82) translate(812 0)">C-42</text></g>
<g id="n-C-82"><text class="rd" transform="rotate(-66.18) translate(812 0)">C-82</text></g>
<g id="n-C-48"><text class="rd" transform="rotate(-63.53) translate(812 0)">C-48</text></g>
<g id="n-C-85"><text class="rd" transform="rotate(-60.88) translate(812 0)">C-85</text></g>
<g id="n-C-94"><text class="rd" transform="rotate(-58.24) translate(812 0)">C-94</text></g>
<g id="n-C-101"><text class="rd" transform="rotate(-55.59) translate(812 0)">C-101</text></g>
<g id="n-C-92"><text class="rd" transform="rotate(-52.94) translate(812 0)">C-92</text></g>
<g id="n-C-90"><text class="rd" transform="rotate(-50.29) translate(812 0)">C-90</text></g>
<g id="n-C-99"><text class="rd" transform="rotate(-47.65) translate(812 0)">C-99</text></g>
<g id="n-C-96"><text class="rd" transform="rotate(-45) translate(812 0)">C-96</text></g>
<g id="n-C-95"><text class="rd" transform="rotate(-42.35) translate(812 0)">C-95</text></g>
<g id="n-C-91"><text class="rd" transform="rotate(-39.71) translate(812 0)">C-91</text></g>
<g id="n-C-83"><text class="rd" transform="rotate(-37.06) translate(812 0)">C-83</text></g>
<g id="n-C-45"><text class="rd" transform="rotate(-34.41) translate(812 0)">C-45</text></g>
<g id="n-C-44"><text class="rd" transform="rotate(-31.76) translate(812 0)">C-44</text></g>
<g id="n-C-89"><text class="rd" transform="rotate(-29.12) translate(812 0)">C-89</text></g>
<g id="n-C-40"><text class="rd" transform="rotate(-26.47) translate(812 0)">C-40</text></g>
<g id="n-C-47"><text class="rd" transform="rotate(-23.82) translate(812 0)">C-47</text></g>
<g id="n-C-43"><text class="rd" transform="rotate(-21.18) translate(812 0)">C-43</text></g>
<g id="n-C-102"><text class="rd" transform="rotate(-18.53) translate(812 0)">C-102</text></g>
<g id="n-C-100"><text class="rd" transform="rotate(-15.88) translate(812 0)">C-100</text></g>
<g id="n-C-86"><text class="rd" transform="rotate(-13.24) translate(812 0)">C-86</text></g>
<g id="n-C-84"><text class="rd" transform="rotate(-10.59) translate(812 0)">C-84</text></g>
<g id="n-C-98"><text class="rd" transform="rotate(-7.94) translate(812 0)">C-98</text></g>
<g id="n-C-93"><text class="rd" transform="rotate(-5.29) translate(812 0)">C-93</text></g>
<g id="n-C-88"><text class="rd" transform="rotate(-2.65) translate(812 0)">C-88</text></g>
<g id="n-C-41"><text class="rd" transform="rotate(0) translate(812 0)">C-41</text></g>
<g id="n-C-56"><text class="dg" transform="rotate(2.65) translate(812 0)">C-56</text></g>
<g id="n-C-110"><text class="dg" transform="rotate(5.29) translate(812 0)">C-110</text></g>
<g id="n-C-140"><text class="dg" transform="rotate(7.94) translate(812 0)">C-140</text></g>
<g id="n-C-147"><text class="dg" transform="rotate(10.59) translate(812 0)">C-147</text></g>
<g id="n-C-145"><text class="dg" transform="rotate(13.24) translate(812 0)">C-145</text></g>
<g id="n-C-146"><text class="dg" transform="rotate(15.88) translate(812 0)">C-146</text></g>
<g id="n-C-134"><text class="dg" transform="rotate(18.53) translate(812 0)">C-134</text></g>
<g id="n-C-133"><text class="dg" transform="rotate(21.18) translate(812 0)">C-133</text></g>
<g id="n-C-152"><text class="dg" transform="rotate(23.82) translate(812 0)">C-152</text></g>
<g id="n-C-151"><text class="dg" transform="rotate(26.47) translate(812 0)">C-151</text></g>
<g id="n-C-166"><text class="dg" transform="rotate(29.12) translate(812 0)">C-166</text></g>
<g id="n-C-165"><text class="dg" transform="rotate(31.76) translate(812 0)">C-165</text></g>
<g id="n-C-54"><text class="dg" transform="rotate(34.41) translate(812 0)">C-54</text></g>
<g id="n-C-139"><text class="dg" transform="rotate(37.06) translate(812 0)">C-139</text></g>
<g id="n-C-52"><text class="dg" transform="rotate(39.71) translate(812 0)">C-52</text></g>
<g id="n-C-138"><text class="dg" transform="rotate(42.35) translate(812 0)">C-138</text></g>
<g id="n-C-114"><text class="dg" transform="rotate(45) translate(812 0)">C-114</text></g>
<g id="n-C-105"><text class="dg" transform="rotate(47.65) translate(812 0)">C-105</text></g>
<g id="n-C-158"><text class="dg" transform="rotate(50.29) translate(812 0)">C-158</text></g>
<g id="n-C-157"><text class="dg" transform="rotate(52.94) translate(812 0)">C-157</text></g>
<g id="n-C-109"><text class="dg" transform="rotate(55.59) translate(812 0)">C-109</text></g>
<g id="n-C-108"><text class="dg" transform="rotate(58.24) translate(812 0)">C-108</text></g>
<g id="n-C-57"><text class="dg" transform="rotate(60.88) translate(812 0)">C-57</text></g>
<g id="n-C-111"><text class="dg" transform="rotate(63.53) translate(812 0)">C-111</text></g>
<g id="n-C-53"><text class="dg" transform="rotate(66.18) translate(812 0)">C-53</text></g>
<g id="n-C-51"><text class="dg" transform="rotate(68.82) translate(812 0)">C-51</text></g>
<g id="n-C-49"><text class="dg" transform="rotate(71.47) translate(812 0)">C-49</text></g>
<g id="n-C-112"><text class="dg" transform="rotate(74.12) translate(812 0)">C-112</text></g>
<g id="n-C-160"><text class="dg" transform="rotate(76.76) translate(812 0)">C-160</text></g>
<g id="n-C-115"><text class="dg" transform="rotate(79.41) translate(812 0)">C-115</text></g>
<g id="n-C-159"><text class="dg" transform="rotate(82.06) translate(812 0)">C-159</text></g>
<g id="n-C-60"><text class="dg" transform="rotate(84.71) translate(812 0)">C-60</text></g>
<g id="n-C-50"><text class="dg" transform="rotate(87.35) translate(812 0)">C-50</text></g>
<g id="n-C-117"><text class="dg e" transform="rotate(90) translate(812 0) rotate(180)">C-117</text></g>
<g id="n-C-150"><text class="dg e" transform="rotate(92.65) translate(812 0) rotate(180)">C-150</text></g>
<g id="n-C-149"><text class="dg e" transform="rotate(95.29) translate(812 0) rotate(180)">C-149</text></g>
<g id="n-C-148"><text class="dg e" transform="rotate(97.94) translate(812 0) rotate(180)">C-148</text></g>
<g id="n-C-118"><text class="dg e" transform="rotate(100.59) translate(812 0) rotate(180)">C-118</text></g>
<g id="n-C-113"><text class="dg e" transform="rotate(103.24) translate(812 0) rotate(180)">C-113</text></g>
<g id="n-C-142"><text class="dg e" transform="rotate(105.88) translate(812 0) rotate(180)">C-142</text></g>
<g id="n-C-141"><text class="dg e" transform="rotate(108.53) translate(812 0) rotate(180)">C-141</text></g>
<g id="n-C-144"><text class="dg e" transform="rotate(111.18) translate(812 0) rotate(180)">C-144</text></g>
<g id="n-C-143"><text class="dg e" transform="rotate(113.82) translate(812 0) rotate(180)">C-143</text></g>
<g id="n-C-137"><text class="dg e" transform="rotate(116.47) translate(812 0) rotate(180)">C-137</text></g>
<g id="n-C-59"><text class="dg e" transform="rotate(119.12) translate(812 0) rotate(180)">C-59</text></g>
<g id="n-C-122"><text class="dg e" transform="rotate(121.76) translate(812 0) rotate(180)">C-122</text></g>
<g id="n-C-121"><text class="dg e" transform="rotate(124.41) translate(812 0) rotate(180)">C-121</text></g>
<g id="n-C-123"><text class="dg e" transform="rotate(127.06) translate(812 0) rotate(180)">C-123</text></g>
<g id="n-C-116"><text class="dg e" transform="rotate(129.71) translate(812 0) rotate(180)">C-116</text></g>
<g id="n-C-125"><text class="dg e" transform="rotate(132.35) translate(812 0) rotate(180)">C-125</text></g>
<g id="n-C-120"><text class="dg e" transform="rotate(135) translate(812 0) rotate(180)">C-120</text></g>
<g id="n-C-119"><text class="dg e" transform="rotate(137.65) translate(812 0) rotate(180)">C-119</text></g>
<g id="n-C-156"><text class="dg e" transform="rotate(140.29) translate(812 0) rotate(180)">C-156</text></g>
<g id="n-C-155"><text class="dg e" transform="rotate(142.94) translate(812 0) rotate(180)">C-155</text></g>
<g id="n-C-55"><text class="bg e" transform="rotate(145.59) translate(812 0) rotate(180)">C-55</text></g>
<g id="n-C-106"><text class="bg e" transform="rotate(148.24) translate(812 0) rotate(180)">C-106</text></g>
<g id="n-C-104"><text class="bg e" transform="rotate(150.88) translate(812 0) rotate(180)">C-104</text></g>
<g id="n-C-103"><text class="bg e" transform="rotate(153.53) translate(812 0) rotate(180)">C-103</text></g>
<g id="n-C-107"><text class="bg e" transform="rotate(156.18) translate(812 0) rotate(180)">C-107</text></g>
<g id="n-C-75"><text class="pk e" transform="rotate(158.82) translate(812 0) rotate(180)">C-75</text></g>
<g id="n-C-61"><text class="pk e" transform="rotate(161.47) translate(812 0) rotate(180)">C-61</text></g>
<g id="n-C-67"><text class="pk e" transform="rotate(164.12) translate(812 0) rotate(180)">C-67</text></g>
<g id="n-C-132"><text class="pk e" transform="rotate(166.76) translate(812 0) rotate(180)">C-132</text></g>
<g id="n-C-131"><text class="pk e" transform="rotate(169.41) translate(812 0) rotate(180)">C-131</text></g>
<g id="n-C-65"><text class="pk e" transform="rotate(172.06) translate(812 0) rotate(180)">C-65</text></g>
<g id="n-C-76"><text class="pk e" transform="rotate(174.71) translate(812 0) rotate(180)">C-76</text></g>
<g id="n-C-71"><text class="pk e" transform="rotate(177.35) translate(812 0) rotate(180)">C-71</text></g>
<g id="n-C-80"><text class="pk e" transform="rotate(180) translate(812 0) rotate(180)">C-80</text></g>
<g id="n-C-72"><text class="pk e" transform="rotate(182.65) translate(812 0) rotate(180)">C-72</text></g>
<g id="n-C-78"><text class="pk e" transform="rotate(185.29) translate(812 0) rotate(180)">C-78</text></g>
<g id="n-C-33"><text class="pk e" transform="rotate(187.94) translate(812 0) rotate(180)">C-33</text></g>
<g id="n-C-32"><text class="pk e" transform="rotate(190.59) translate(812 0) rotate(180)">C-32</text></g>
<g id="n-C-136"><text class="pk e" transform="rotate(193.24) translate(812 0) rotate(180)">C-136</text></g>
<g id="n-C-135"><text class="pk e" transform="rotate(195.88) translate(812 0) rotate(180)">C-135</text></g>
<g id="n-C-35"><text class="pk e" transform="rotate(198.53) translate(812 0) rotate(180)">C-35</text></g>
<g id="n-C-81"><text class="pk e" transform="rotate(201.18) translate(812 0) rotate(180)">C-81</text></g>
<g id="n-C-39"><text class="pk e" transform="rotate(203.82) translate(812 0) rotate(180)">C-39</text></g>
<g id="n-C-69"><text class="pk e" transform="rotate(206.47) translate(812 0) rotate(180)">C-69</text></g>
<g id="n-C-74"><text class="pk e" transform="rotate(209.12) translate(812 0) rotate(180)">C-74</text></g>
<g id="n-C-64"><text class="pk e" transform="rotate(211.76) translate(812 0) rotate(180)">C-64</text></g>
<g id="n-C-73"><text class="pk e" transform="rotate(214.41) translate(812 0) rotate(180)">C-73</text></g>
<g id="n-C-34"><text class="pk e" transform="rotate(217.06) translate(812 0) rotate(180)">C-34</text></g>
<g id="n-C-77"><text class="pk e" transform="rotate(219.71) translate(812 0) rotate(180)">C-77</text></g>
<g id="n-C-68"><text class="pk e" transform="rotate(222.35) translate(812 0) rotate(180)">C-68</text></g>
<g id="n-C-36"><text class="pk e" transform="rotate(225) translate(812 0) rotate(180)">C-36</text></g>
<g id="n-C-79"><text class="pk e" transform="rotate(227.65) translate(812 0) rotate(180)">C-79</text></g>
<g id="n-C-63"><text class="pk e" transform="rotate(230.29) translate(812 0) rotate(180)">C-63</text></g>
<g id="n-C-37"><text class="pk e" transform="rotate(232.94) translate(812 0) rotate(180)">C-37</text></g>
<g id="n-C-38"><text class="pk e" transform="rotate(235.59) translate(812 0) rotate(180)">C-38</text></g>
<g id="n-C-70"><text class="pk e" transform="rotate(238.24) translate(812 0) rotate(180)">C-70</text></g>
<g id="n-C-66"><text class="pk e" transform="rotate(240.88) translate(812 0) rotate(180)">C-66</text></g>
<g id="n-C-62"><text class="pk e" transform="rotate(243.53) translate(812 0) rotate(180)">C-62</text></g>
<g id="n-C-31"><text class="pk e" transform="rotate(246.18) translate(812 0) rotate(180)">C-31</text></g>
</g>
</svg>
